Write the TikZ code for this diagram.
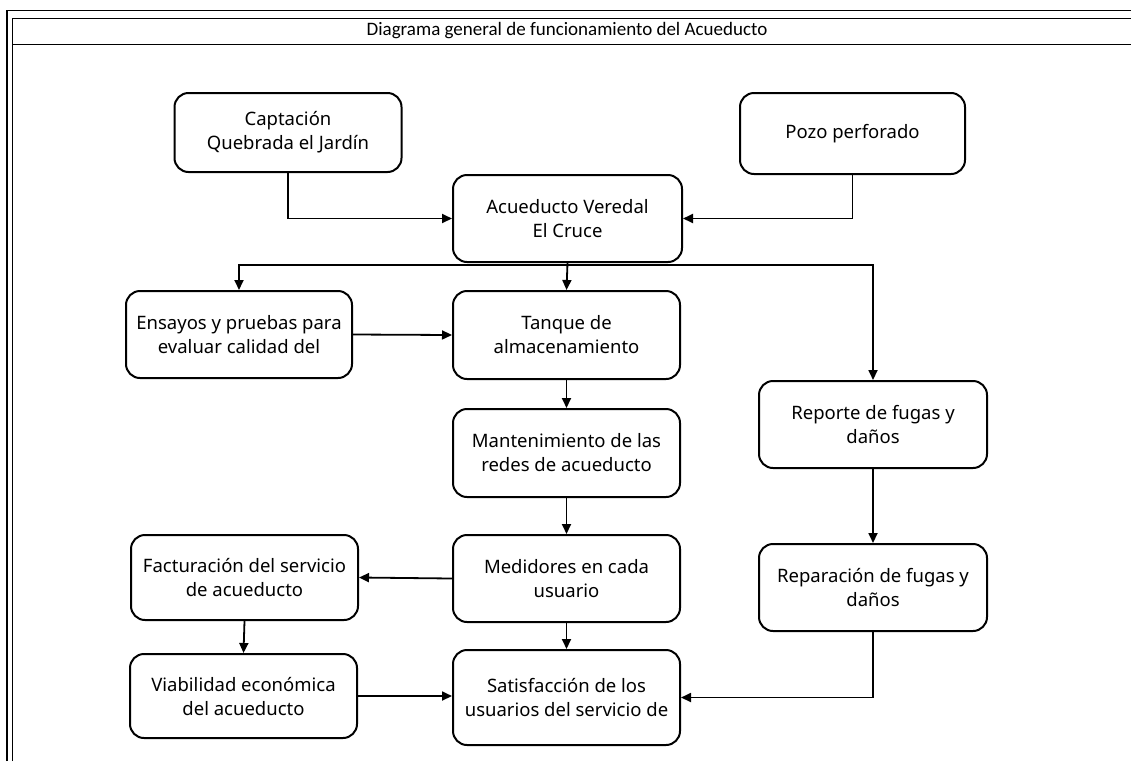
\documentclass[tikz,border=0pt]{standalone}
\usepackage{fontspec}
\setmainfont{Noto Sans}
\newfontfamily\titlefont{Carlito}
\usetikzlibrary{positioning,arrows.meta}

\tikzset{
  caja/.style={draw, line width=2pt, rounded corners=14pt, minimum width=227pt, minimum height=86pt, align=center, font=\fontsize{18.5}{24}\selectfont},
  flecha/.style={line width=1.8pt, -{Triangle[length=10pt,width=9pt]}},
  linea/.style={line width=1.8pt}
}

\begin{document}
\begin{tikzpicture}[x=1pt,y=-1pt]
\useasboundingbox (0,0) rectangle (1131,761);
% marco
\draw[line width=1.8pt](7,761) -- (7,10.5) -- (1131,10.5);
\draw[line width=1pt](12,761) -- (12,18) -- (1131,18);
\draw[line width=1pt](12,44) -- (1131,44);
\node (titulo) at (567,31) {\titlefont\fontsize{19}{21}\selectfont Diagrama general de funcionamiento del Acueducto};

% cajas
\node[caja, minimum height=79pt] (captacion) at (288,132.5) {Captaci\'on\\Quebrada el Jard\'in};
\node[caja, minimum height=81pt, minimum width=225pt] (pozo) at (852.5,133.5) {Pozo perforado};
\node[caja, minimum width=229pt, minimum height=87pt] (acueducto) at (567.5,218.5) {Acueducto Veredal\\El Cruce};
\node[caja, minimum height=87pt, minimum width=226pt] (ensayos) at (239,334.5) {Ensayos y pruebas para\\evaluar calidad del};
\node[caja, minimum height=88pt] (tanque) at (566.5,335) {Tanque de\\almacenamiento};
\node[caja, minimum height=88pt] (mantenimiento) at (566.5,453) {Mantenimiento de las\\redes de acueducto};
\node[caja, minimum height=87pt, minimum width=228pt] (reporte) at (873,424.5) {Reporte de fugas y\\da\~nos};
\node[caja, minimum height=87pt, minimum width=228pt] (reparacion) at (873,587.5) {Reparaci\'on de fugas y\\da\~nos};
\node[caja, minimum height=85pt] (facturacion) at (244.5,577.5) {Facturaci\'on del servicio\\de acueducto};
\node[caja, minimum height=87pt] (medidores) at (566.5,578.5) {Medidores en cada\\usuario};
\node[caja, minimum height=84pt] (viabilidad) at (243.5,696) {Viabilidad econ\'omica\\del acueducto};
\node[caja, minimum height=95pt] (satisfaccion) at (566.5,697.5) {Satisfacci\'on de los\\usuarios del servicio de};

% conexiones
\coordinate (rama) at (567,265);
\draw[flecha](captacion.south) |- (acueducto.west);
\draw[flecha](pozo.south) |- (acueducto.east);
\draw[flecha](acueducto.south) -- (tanque.north);
\draw[flecha](rama) -| (ensayos.north);
\draw[flecha](rama) -| (reporte.north);
\draw[flecha](ensayos.east) -- (tanque.west);
\draw[flecha](tanque.south) -- (mantenimiento.north);
\draw[flecha](mantenimiento.south) -- (medidores.north);
\draw[flecha](medidores.west) -- (facturacion.east);
\draw[flecha](facturacion.south) -- (viabilidad.north);
\draw[flecha](viabilidad.east) -- (viabilidad.east -| satisfaccion.west);
\draw[flecha](medidores.south) -- (satisfaccion.north);
\draw[flecha](reporte.south) -- (reparacion.north);
\draw[flecha](reparacion.south) |- (satisfaccion.east);
\end{tikzpicture}
\end{document}
